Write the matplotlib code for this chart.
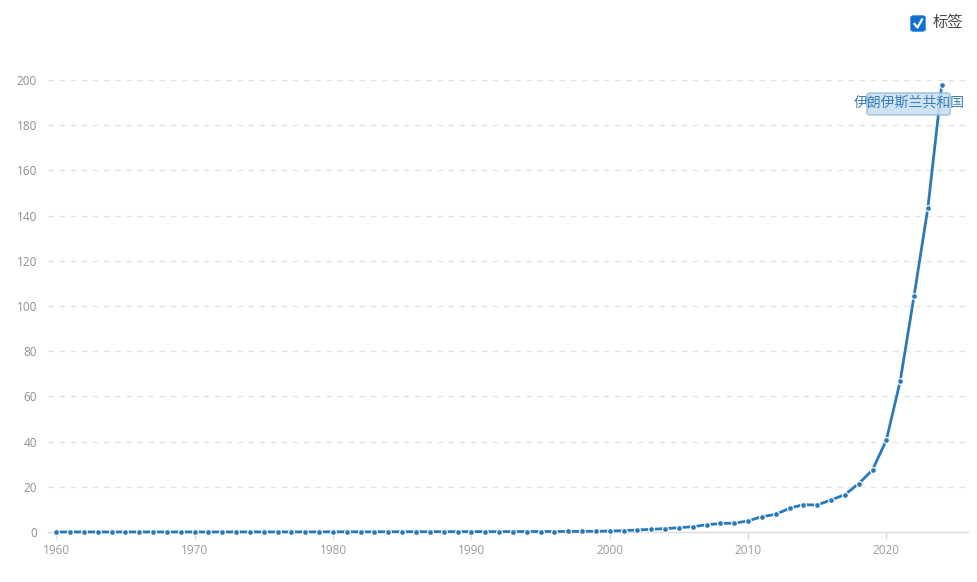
import matplotlib
matplotlib.use("Agg")
import matplotlib.pyplot as plt
from matplotlib.patches import FancyBboxPatch
import numpy as np

plt.rcParams['font.family'] = ['Open Sans', 'Noto Sans CJK SC', 'DejaVu Sans']

years = list(range(1960, 2025))
values = [0.02, 0.02, 0.02, 0.02, 0.02, 0.02, 0.02, 0.02, 0.02, 0.02,
          0.02, 0.02, 0.03, 0.03, 0.03, 0.04, 0.04, 0.05, 0.05, 0.06,
          0.07, 0.08, 0.09, 0.10, 0.11, 0.11, 0.12, 0.13, 0.14, 0.15,
          0.16, 0.17, 0.18, 0.19, 0.20, 0.21, 0.22, 0.24, 0.27, 0.32,
          0.45, 0.60, 0.90, 1.2, 1.5, 1.9, 2.35, 3.15, 3.8, 3.9,
          4.9, 6.8, 7.8, 10.5, 12.1, 11.9, 14.2, 16.5, 21.4, 27.5,
          40.7, 66.8, 104.4, 143.4, 197.8]
yticks = [0, 20, 40, 60, 80, 100, 120, 140, 160, 180, 200]
xticks = [1960, 1970, 1980, 1990, 2000, 2010, 2020]
series_label = "伊朗伊斯兰共和国"
legend_label = "标签"

line_color = '#2a7ab9'

fig = plt.figure(figsize=(9.78, 5.82), dpi=100)
ax = fig.add_axes([48/978, 50/582, 920/978, 452/582])
ax.set_xlim(1959.4, 2025.9)
ax.set_ylim(0, 200)

ax.plot(years, values, color=line_color, lw=2, marker='o', ms=4.2,
        mec='white', mew=0.8, mfc=line_color, clip_on=False, zorder=3)

for s in ['top', 'right', 'left']:
    ax.spines[s].set_visible(False)
ax.spines['bottom'].set_color('#d6dbe2')
ax.spines['bottom'].set_linewidth(1)

ax.set_yticks(yticks)
ax.set_yticklabels([str(v) for v in yticks])
ax.set_xticks(xticks)
ax.set_xticklabels([str(v) for v in xticks])
ax.tick_params(axis='y', length=0, pad=8, labelsize=8.5)
ax.tick_params(axis='x', length=5, width=1, color='#d6dbe2', pad=4,
               labelsize=8.5)
for t in ax.get_yticklabels():
    t.set_color('#8e8e8e')
for t in ax.get_xticklabels():
    t.set_color('#9a9a9a')

for v in yticks[1:]:
    ax.axhline(v, color='#e2e2e2', lw=1, ls=(0, (4, 4)), zorder=1)

# annotation label at last point
box = FancyBboxPatch((867/978, 1 - 115/582), 83/978, 22/582,
                     boxstyle="round,pad=0,rounding_size=0.004",
                     transform=fig.transFigure, facecolor='#c9dff0',
                     edgecolor='#8fb9da', lw=1, alpha=0.9, zorder=4)
fig.patches.append(box)
fig.text(909/978, 1 - 103/582, series_label, ha='center', va='center',
         fontsize=10, color='#3a7fb5', zorder=5)

# legend checkbox
cb = FancyBboxPatch((911/978, 1 - 31/582), 14/978, 15/582,
                    boxstyle="round,pad=0,rounding_size=0.003",
                    transform=fig.transFigure, facecolor='#1170d6',
                    edgecolor='#1170d6', lw=1)
fig.patches.append(cb)
fig.lines.append(plt.Line2D([914.5/978, 917.5/978, 922/978],
                            [1 - 24/582, 1 - 27.5/582, 1 - 19.5/582],
                            transform=fig.transFigure, color='white', lw=1.6))
fig.text(933/978, 1 - 23.5/582, legend_label, ha='left', va='center',
         fontsize=11, color='#444444')

fig.savefig('out.png', dpi=100)
